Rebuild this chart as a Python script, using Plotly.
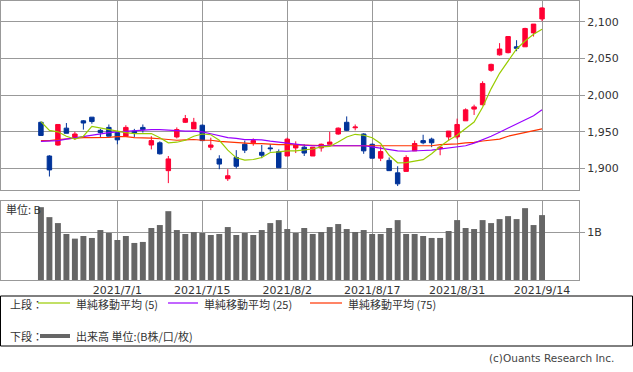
import plotly.graph_objects as go
from plotly.subplots import make_subplots

dates = ["2021/6/18", "2021/6/21", "2021/6/22", "2021/6/23", "2021/6/24", "2021/6/25",
         "2021/6/28", "2021/6/29", "2021/6/30", "2021/7/1", "2021/7/2", "2021/7/5",
         "2021/7/6", "2021/7/7", "2021/7/8", "2021/7/9", "2021/7/12", "2021/7/13",
         "2021/7/14", "2021/7/15", "2021/7/16", "2021/7/19", "2021/7/20", "2021/7/21",
         "2021/7/26", "2021/7/27", "2021/7/28", "2021/7/29", "2021/7/30", "2021/8/2",
         "2021/8/3", "2021/8/4", "2021/8/5", "2021/8/6", "2021/8/10", "2021/8/11",
         "2021/8/12", "2021/8/13", "2021/8/16", "2021/8/17", "2021/8/18", "2021/8/19",
         "2021/8/20", "2021/8/23", "2021/8/24", "2021/8/25", "2021/8/26", "2021/8/27",
         "2021/8/30", "2021/8/31", "2021/9/1", "2021/9/2", "2021/9/3", "2021/9/6",
         "2021/9/7", "2021/9/8", "2021/9/9", "2021/9/10", "2021/9/13", "2021/9/14"]

open_ = [1963, 1917, 1932, 1955, 1942, 1965, 1970, 1952, 1956, 1949,
         1944, 1951, 1956, 1932, 1935, 1897, 1943, 1963, 1954, 1959,
         1929, 1913, 1886, 1915, 1933, 1935, 1922, 1928, 1923, 1917,
         1928, 1929, 1917, 1928, 1933, 1947, 1963, 1955.5, 1947, 1933,
         1914, 1911, 1894, 1896, 1924, 1938, 1940, 1927, 1943, 1943,
         1965, 1981, 1987, 2034, 2055, 2058, 2066, 2066, 2085, 2104]
high = [1964, 1918, 1960, 1962, 1950, 1966, 1970, 1954, 1960, 1950,
        1959, 1954, 1960, 1944, 1937, 1917, 1956, 1973, 1969, 1960,
        1942, 1918, 1899, 1925, 1938, 1941, 1932, 1933, 1926, 1942,
        1937, 1933, 1929, 1934, 1950, 1956, 1971, 1960, 1948, 1934,
        1930, 1915, 1903, 1918, 1938, 1946, 1942, 1930, 1951, 1968,
        1982, 1987, 2019, 2043, 2071, 2080, 2075, 2092, 2097, 2120]
low = [1945, 1889, 1931, 1948, 1939, 1953, 1961, 1943, 1944, 1933,
       1944, 1943, 1949, 1926, 1919, 1880, 1941, 1962, 1954, 1938,
       1925, 1899, 1883, 1900, 1921, 1931, 1914, 1923, 1901, 1917,
       1921, 1917, 1917, 1923, 1933, 1946, 1951, 1952, 1920, 1914,
       1910, 1897, 1876, 1896, 1924, 1933, 1929, 1918, 1938, 1940,
       1965, 1973, 1986, 2032, 2054, 2057, 2060, 2066, 2080, 2101]
close = [1945, 1898, 1960, 1948, 1947, 1962, 1964, 1949, 1944, 1939,
         1956, 1948, 1953, 1938, 1920, 1913, 1953, 1968, 1963, 1938,
         1932, 1906, 1890, 1903, 1925, 1938, 1918, 1927, 1901, 1940,
         1932, 1921, 1929, 1933, 1936, 1955, 1952, 1956.5, 1924, 1914,
         1923, 1897, 1879, 1915, 1934, 1935, 1935, 1929, 1951, 1960,
         1980, 1984, 2016, 2042, 2063, 2080, 2064, 2091, 2097, 2119]

ma5 = [1964, 1952, 1950, 1944, 1940, 1944, 1957.5, 1955, 1953, 1951,
       1949, 1947.6, 1947.6, 1947.6, 1942, 1935, 1935.8, 1938.5, 1944, 1947,
       1946, 1938.5, 1925, 1914.5, 1911.3, 1912.2, 1915, 1921.8, 1922.6, 1924,
       1924, 1925, 1926.5, 1929.4, 1930, 1936, 1943, 1946.6, 1945.3, 1942,
       1934, 1918, 1907.7, 1908, 1909.5, 1912, 1920, 1930, 1938.5, 1945.3,
       1954.4, 1963.3, 1983.6, 2008.6, 2029.8, 2047, 2063, 2074, 2083, 2090]
ma25 = [1937, 1937, 1938, 1940, 1942, 1944, 1946, 1947, 1949, 1950,
        1951, 1952, 1953, 1953, 1953, 1952, 1951, 1951, 1951, 1950,
        1947.3, 1944.4, 1942, 1941, 1939.4, 1939.4, 1939, 1937.3, 1935.8, 1934,
        1932.6, 1931.7, 1931, 1931, 1931, 1931, 1931, 1931, 1931, 1929.5,
        1927.5, 1925.5, 1924, 1923.5, 1923.5, 1924.5, 1925, 1926.5, 1927.5, 1929,
        1931, 1934.5, 1939, 1944, 1949.5, 1955, 1960, 1966, 1972, 1980]
ma75 = [1938, 1938, 1939.5, 1940.5, 1941, 1942, 1942, 1942, 1942.5, 1943.5,
        1943.5, 1942, 1942, 1941.5, 1940.5, 1939.5, 1938.5, 1939, 1939.5, 1938.5,
        1938.5, 1937, 1936.2, 1936, 1934.5, 1934, 1934, 1933, 1932.6, 1932.5,
        1932, 1931.7, 1931.5, 1931, 1931, 1931, 1931, 1931, 1931, 1931,
        1931, 1931, 1931, 1931, 1931, 1931, 1931, 1932.5, 1932.6, 1933.5,
        1935, 1935.5, 1937.5, 1938.5, 1940, 1944, 1946.5, 1948.5, 1951.5, 1954]

volume = [1.517, 1.31, 1.186, 0.959, 0.862, 0.917, 0.876, 1.041, 0.979, 0.834,
          0.917, 0.772, 0.793, 1.083, 1.145, 1.434, 1.041, 0.959, 1.0, 0.979,
          0.938, 0.959, 1.103, 0.938, 0.979, 0.938, 1.041, 1.186, 1.248, 1.062,
          0.979, 1.083, 0.959, 1.0, 1.103, 1.166, 1.062, 1.0, 1.041, 0.959,
          0.959, 1.083, 1.248, 0.959, 0.959, 0.917, 0.876, 0.876, 1.021, 1.248,
          1.083, 1.062, 1.248, 1.186, 1.269, 1.331, 1.269, 1.497, 1.145, 1.352]

x_ticks = ["2021/7/1", "2021/7/15", "2021/8/2", "2021/8/17", "2021/8/31", "2021/9/14"]
price_ticks = [1900, 1950, 2000, 2050, 2100]

W, H = 578, 279
def px(x):
    return (x - 1) / W
def py(y):
    return 1 - (y - 1) / H

RED = "#ff0033"
BLUE = "#003399"
C5, C25, C75 = "#99cc00", "#9900ff", "#ff3300"
GRID = "#999999"
TXT = "#333333"
NUM_FONT = dict(family="DejaVu Sans", size=11, color=TXT)
JP_FONT = dict(family="Noto Sans CJK JP", size=11, color=TXT)

fig = make_subplots(rows=2, cols=1, shared_xaxes=True, vertical_spacing=0,
                    row_heights=[0.7, 0.3])

fig.add_trace(go.Candlestick(x=dates, open=open_, high=high, low=low, close=close,
                             increasing=dict(line=dict(color=RED, width=1), fillcolor=RED),
                             decreasing=dict(line=dict(color=BLUE, width=1), fillcolor=BLUE),
                             whiskerwidth=0, showlegend=False, hoverinfo="skip"),
              row=1, col=1)
for vals, col in [(ma75, C75), (ma25, C25), (ma5, C5)]:
    fig.add_trace(go.Scatter(x=dates, y=vals, mode="lines",
                             line=dict(color=col, width=1.2),
                             showlegend=False, hoverinfo="skip"), row=1, col=1)

fig.add_trace(go.Bar(x=dates, y=volume, marker=dict(color="#666666", line=dict(width=0)),
                     showlegend=False, hoverinfo="skip"), row=2, col=1)

xcommon = dict(type="category", range=[-4.7, 63.35], tickvals=x_ticks,
               showgrid=True, gridcolor=GRID, gridwidth=1,
               showline=True, linecolor=GRID, linewidth=1, mirror=True,
               rangeslider=dict(visible=False), fixedrange=True, ticks="",
               automargin=False)
fig.update_layout(
    xaxis=dict(**xcommon, showticklabels=False),
    xaxis2=dict(**xcommon, showticklabels=True, tickfont=NUM_FONT, ticklabelstandoff=0),
    yaxis=dict(domain=[py(190), 1], range=[1870.6, 2128.5], side="right",
               tickvals=price_ticks, tickformat=",", tickfont=NUM_FONT,
               showgrid=True, gridcolor=GRID, gridwidth=1,
               showline=True, linecolor=GRID, linewidth=1, mirror=True,
               ticks="outside", ticklen=5, tickcolor=GRID, zeroline=False,
               automargin=False, fixedrange=True),
    yaxis2=dict(domain=[0, py(201)], range=[0, 1.646], side="right",
                tickvals=[1], ticktext=["1B"], tickfont=NUM_FONT,
                showgrid=True, gridcolor=GRID, gridwidth=1,
                showline=True, linecolor=GRID, linewidth=1, mirror=True,
                ticks="outside", ticklen=5, tickcolor=GRID, zeroline=False,
                automargin=False, fixedrange=True),
    width=633, height=372,
    margin=dict(l=1, r=54, t=1, b=92, pad=0, autoexpand=False),
    paper_bgcolor="white", plot_bgcolor="white",
    bargap=0.3, boxgap=0.25,
)

shapes = [dict(type="rect", xref="paper", yref="paper",
               x0=px(0.5), x1=px(632.5), y0=py(296), y1=py(346),
               line=dict(color="black", width=1), fillcolor="rgba(0,0,0,0)")]
for x0, x1, col, w, yy in [(38, 70, C5, 1.2, 303), (168, 198, C25, 1.2, 303),
                           (310, 342, C75, 1.2, 303), (40, 70, "#666666", 4, 336)]:
    shapes.append(dict(type="line", xref="paper", yref="paper",
                       x0=px(x0), x1=px(x1), y0=py(yy), y1=py(yy),
                       line=dict(color=col, width=w)))
fig.update_layout(shapes=shapes)

ann = []
def add_text(x, y, text, font, xanchor="left"):
    ann.append(dict(xref="paper", yref="paper", x=px(x), y=py(y), text=text,
                    showarrow=False, xanchor=xanchor, yanchor="middle", font=font))

add_text(8, 303.5, "上段：", JP_FONT)
add_text(74, 303.5, "単純移動平均 (5)", JP_FONT)
add_text(202, 303.5, "単純移動平均 (25)", JP_FONT)
add_text(346, 303.5, "単純移動平均 (75)", JP_FONT)
add_text(8, 336, "下段：", JP_FONT)
add_text(74, 336, "出来高 単位:(B株/口/枚)", JP_FONT)
add_text(4, 209, "単位: B", JP_FONT)
add_text(616, 358, "(c)Ouants Research Inc.", dict(family="DejaVu Sans", size=10.5, color="#444444"),
         xanchor="right")
fig.update_layout(annotations=ann)

fig.write_html("out.html", config={"displayModeBar": False},
               post_script="document.body.style.margin='0';document.body.style.padding='0';")
